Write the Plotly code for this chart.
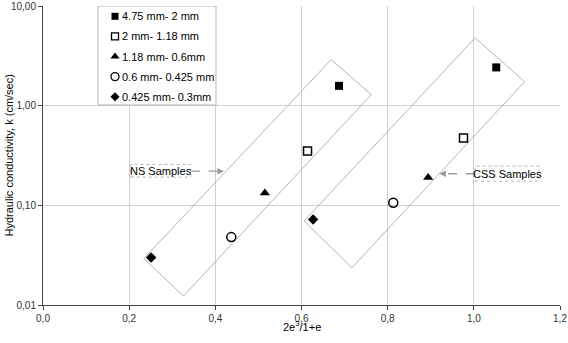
import math
import plotly.graph_objects as go

# ---- data ----
series_names = ["4.75 mm- 2 mm", "2 mm- 1.18 mm", "1.18 mm- 0.6mm",
                "0.6 mm- 0.425 mm", "0.425 mm- 0.3mm"]
ns_x = [0.687, 0.614, 0.515, 0.437, 0.251]
ns_k = [1.58, 0.35, 0.133, 0.048, 0.030]
css_x = [1.052, 0.976, 0.894, 0.813, 0.627]
css_k = [2.42, 0.475, 0.19, 0.106, 0.072]

x_ticks = [0.0, 0.2, 0.4, 0.6, 0.8, 1.0, 1.2]
x_tick_labels = ["0,0", "0,2", "0,4", "0,6", "0,8", "1,0", "1,2"]
y_ticks = [0.01, 0.1, 1, 10]
y_tick_labels = ["0,01", "0,10", "1,00", "10,00"]

# rotated group outlines (x, k) : left, bottom, right, top corners
ns_box_x = [0.234, 0.326, 0.762, 0.669, 0.234]
ns_box_k = [0.0293, 0.0123, 1.29, 2.90, 0.0293]
css_box_x = [0.606, 0.717, 1.118, 1.003, 0.606]
css_box_k = [0.0697, 0.0236, 1.74, 4.79, 0.0697]

# callout boxes (x range, k range) and arrows (from, to)
ns_label_x = [0.2036, 0.343]
ns_label_k = [10 ** -0.717, 10 ** -0.59]
ns_arrow_x = [0.343, 0.420]
ns_arrow_k = [10 ** -0.657, 10 ** -0.657]
css_label_x = [1.003, 1.151]
css_label_k = [10 ** -0.757, 10 ** -0.607]
css_arrow_x = [1.003, 0.920]
css_arrow_k = [10 ** -0.683, 10 ** -0.683]

symbols = ["square", "square-open", "triangle-up", "circle-open", "diamond"]
sizes = [8, 8, 9, 9, 8]

FONT = "Liberation Sans, Arial, sans-serif"
GRAY = "#b4b4b4"
W, H = 568, 343
L, R, T, B = 43, 8, 6, 38
PX0, PX1, PY0, PY1 = L, W - R, T, H - B  # plot area in pixels

fig = go.Figure()

# outlines
for bx, bk in [(ns_box_x, ns_box_k), (css_box_x, css_box_k)]:
    fig.add_trace(go.Scatter(x=bx, y=bk, mode="lines",
                             line=dict(color=GRAY, width=1),
                             showlegend=False, hoverinfo="skip"))

# callout boxes and arrow shafts
for lx, lk in [(ns_label_x, ns_label_k), (css_label_x, css_label_k)]:
    fig.add_trace(go.Scatter(x=[lx[0], lx[1], lx[1], lx[0], lx[0]],
                             y=[lk[0], lk[0], lk[1], lk[1], lk[0]],
                             mode="lines", line=dict(color=GRAY, width=1, dash="dot"),
                             showlegend=False, hoverinfo="skip"))
for ax_, ak in [(ns_arrow_x, ns_arrow_k), (css_arrow_x, css_arrow_k)]:
    fig.add_trace(go.Scatter(x=ax_, y=ak, mode="lines",
                             line=dict(color="#999999", width=1.3, dash="dash"),
                             showlegend=False, hoverinfo="skip"))

# data points: one trace per size class
for i, name in enumerate(series_names):
    fig.add_trace(go.Scatter(
        x=[ns_x[i], css_x[i]], y=[ns_k[i], css_k[i]], mode="markers",
        name=name, showlegend=False,
        marker=dict(symbol=symbols[i], size=sizes[i], color="black",
                    line=dict(color="black", width=1.5 if "open" in symbols[i] else 0)),
    ))

fig.add_annotation(x=sum(ns_label_x) / 2, y=math.log10(ns_label_k[0] * ns_label_k[1]) / 2,
                   text="NS Samples", showarrow=False,
                   font=dict(size=11, color="black", family=FONT))
fig.add_annotation(x=sum(css_label_x) / 2, y=math.log10(css_label_k[0] * css_label_k[1]) / 2,
                   text="CSS Samples", showarrow=False,
                   font=dict(size=11, color="black", family=FONT))
# arrow heads
for ax_, ak, d in [(ns_arrow_x, ns_arrow_k, -7), (css_arrow_x, css_arrow_k, 7)]:
    fig.add_annotation(x=ax_[1], y=math.log10(ak[1]), ax=d, ay=0, text="",
                       showarrow=True, arrowhead=2, arrowsize=1, arrowwidth=1.3,
                       arrowcolor="#999999")

# ---- hand-built legend on a pixel overlay axis ----
LEG_X0, LEG_X1, LEG_Y0, LEG_Y1 = 98, 216, PY0, 105
ROW0, ROW_STEP = 16.3, 20.1
fig.add_trace(go.Scatter(
    x=[LEG_X0, LEG_X1, LEG_X1, LEG_X0, LEG_X0],
    y=[LEG_Y0, LEG_Y0, LEG_Y1, LEG_Y1, LEG_Y0],
    xaxis="x2", yaxis="y2", mode="lines", fill="toself", fillcolor="white",
    line=dict(color=GRAY, width=1), showlegend=False, hoverinfo="skip"))
for i, name in enumerate(series_names):
    yy = ROW0 + ROW_STEP * i
    fig.add_trace(go.Scatter(
        x=[LEG_X0 + 17], y=[yy], xaxis="x2", yaxis="y2", mode="markers",
        showlegend=False, hoverinfo="skip",
        marker=dict(symbol=symbols[i], size=sizes[i] - 1, color="black",
                    line=dict(color="black", width=1.3 if "open" in symbols[i] else 0)),
    ))
    fig.add_annotation(xref="x2", yref="y2", x=LEG_X0 + 22, y=yy, text=name,
                       xanchor="left", yanchor="middle", showarrow=False,
                       font=dict(size=11, color="black", family=FONT))

# axis titles
fig.add_annotation(xref="paper", yref="paper", x=0.5, y=0, yshift=-21,
                   xanchor="center", yanchor="middle",
                   text="2e<sup>3</sup>/1+e", showarrow=False,
                   font=dict(size=11, color="black", family=FONT))
fig.add_annotation(xref="paper", yref="paper", x=0, y=0.5, xshift=8 - L,
                   xanchor="center", yanchor="middle", textangle=-90,
                   text="Hydraulic conductivity, k (cm/sec)", showarrow=False,
                   font=dict(size=11, color="black", family=FONT))

fig.update_layout(
    width=W, height=H,
    margin=dict(l=L, r=R, t=T, b=B, autoexpand=False),
    paper_bgcolor="white", plot_bgcolor="white",
    font=dict(family=FONT, size=10, color="#333333"),
    showlegend=False,
    xaxis=dict(range=[0, 1.2], tickvals=x_ticks, ticktext=x_tick_labels,
               showgrid=True, gridcolor="#d0d0d0", gridwidth=1,
               showline=True, linecolor="#444444", linewidth=1,
               ticks="outside", ticklen=4, tickcolor="#444444",
               zeroline=False, automargin=False,
               tickfont=dict(size=10, color="#333333")),
    yaxis=dict(type="log", range=[-2, 1], tickvals=y_ticks, ticktext=y_tick_labels,
               showgrid=True, gridcolor="#d0d0d0", gridwidth=1,
               showline=True, linecolor="#444444", linewidth=1,
               ticks="outside", ticklen=4, tickcolor="#444444",
               zeroline=False, automargin=False,
               tickfont=dict(size=10, color="#333333")),
    xaxis2=dict(overlaying="x", anchor="y2", range=[PX0, PX1], visible=False,
                automargin=False),
    yaxis2=dict(overlaying="y", anchor="x2", range=[PY1, PY0], visible=False,
                automargin=False),
)

fig.write_html("out.html", config={"displayModeBar": False},
               post_script="document.body.style.margin='0';")
